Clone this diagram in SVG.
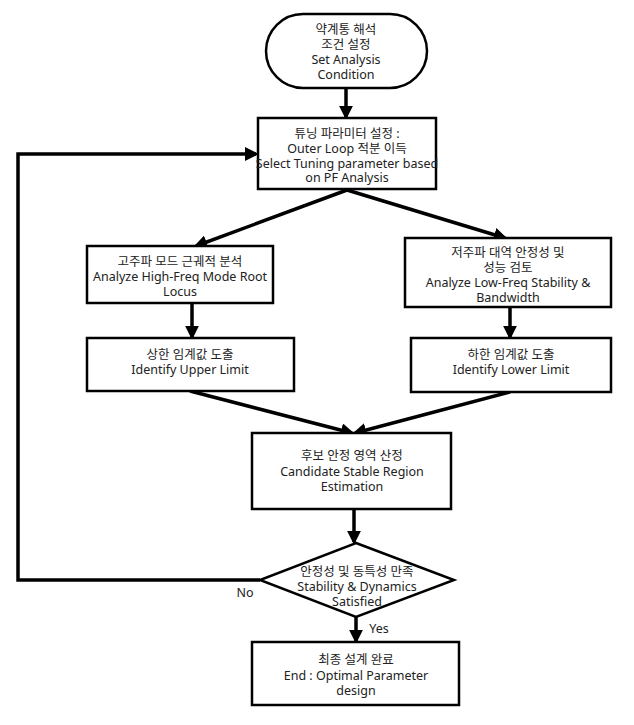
<svg xmlns="http://www.w3.org/2000/svg" width="634" height="725" viewBox="0 0 634 725">
<style>
.n{fill:#fff;stroke:#000;stroke-width:2.5}
.t{font-family:"Noto Sans","Noto Sans CJK KR",sans-serif;font-size:12.5px;fill:#222;text-anchor:middle}
.c{fill:none;stroke:#000;stroke-width:3.5}
</style>
<defs>
<marker id="ah" markerWidth="4" markerHeight="4" refX="3.2" refY="2" orient="auto" markerUnits="strokeWidth">
<path d="M0,0 L4,2 L0,4 Z" fill="#000"/>
</marker>
</defs>
<rect width="634" height="725" fill="#fff"/>
<g id="connectors">
<line class="c" x1="346" y1="88" x2="346" y2="117" marker-end="url(#ah)"/>
<polyline class="c" points="260,580 18,580 18,154 256,154" marker-end="url(#ah)"/>
<line class="c" x1="347" y1="190" x2="196" y2="246" marker-end="url(#ah)"/>
<line class="c" x1="347" y1="190" x2="505" y2="238" marker-end="url(#ah)"/>
<line class="c" x1="192" y1="303" x2="192" y2="337" marker-end="url(#ah)"/>
<line class="c" x1="510" y1="307" x2="510" y2="337" marker-end="url(#ah)"/>
<line class="c" x1="190" y1="391" x2="352" y2="433" marker-end="url(#ah)"/>
<line class="c" x1="510" y1="392" x2="355" y2="433" marker-end="url(#ah)"/>
<line class="c" x1="354" y1="509" x2="354" y2="542" marker-end="url(#ah)"/>
<line class="c" x1="356" y1="617" x2="356" y2="641" marker-end="url(#ah)"/>
<text class="t" x="245" y="597">No</text>
<text class="t" x="379" y="633">Yes</text>
</g>
<g id="start">
<rect class="n" x="266" y="14" width="161" height="74" rx="37" ry="37"/>
<text class="t" x="346" y="34">약계통 해석</text>
<text class="t" x="346" y="49">조건 설정</text>
<text class="t" x="346" y="64">Set Analysis</text>
<text class="t" x="346" y="79">Condition</text>
</g>
<g id="tuning">
<rect class="n" x="258" y="118" width="178" height="71"/>
<text class="t" x="347" y="138">튜닝 파라미터 설정 :</text>
<text class="t" x="347" y="153">Outer Loop 적분 이득</text>
<text class="t" x="347" y="168">Select Tuning parameter based</text>
<text class="t" x="347" y="182">on PF Analysis</text>
</g>
<g id="highfreq">
<rect class="n" x="87" y="246" width="186" height="57"/>
<text class="t" x="180" y="266">고주파 모드 근궤적 분석</text>
<text class="t" x="180" y="281">Analyze High-Freq Mode Root</text>
<text class="t" x="180" y="296">Locus</text>
</g>
<g id="upper">
<rect class="n" x="87" y="338" width="207" height="53"/>
<text class="t" x="190" y="359">상한 임계값 도출</text>
<text class="t" x="190" y="374">Identify Upper Limit</text>
</g>
<g id="lowfreq">
<rect class="n" x="405" y="238" width="206" height="69"/>
<text class="t" x="508" y="257">저주파 대역 안정성 및</text>
<text class="t" x="508" y="272">성능 검토</text>
<text class="t" x="508" y="287">Analyze Low-Freq Stability &amp;</text>
<text class="t" x="508" y="302">Bandwidth</text>
</g>
<g id="lower">
<rect class="n" x="411" y="338" width="200" height="54"/>
<text class="t" x="511" y="359">하한 임계값 도출</text>
<text class="t" x="511" y="374">Identify Lower Limit</text>
</g>
<g id="candidate">
<rect class="n" x="252" y="433" width="199" height="76"/>
<text class="t" x="352" y="460">후보 안정 영역 산정</text>
<text class="t" x="352" y="476">Candidate Stable Region</text>
<text class="t" x="352" y="491">Estimation</text>
</g>
<g id="decision">
<polygon class="n" points="356,543 454,580 356,617 260,580"/>
<text class="t" x="357" y="576">안정성 및 동특성 만족</text>
<text class="t" x="357" y="591">Stability &amp; Dynamics</text>
<text class="t" x="357" y="606">Satisfied</text>
</g>
<g id="end">
<rect class="n" x="252" y="642" width="207" height="63"/>
<text class="t" x="356" y="664">최종 설계 완료</text>
<text class="t" x="356" y="680">End : Optimal Parameter</text>
<text class="t" x="356" y="695">design</text>
</g>
</svg>
